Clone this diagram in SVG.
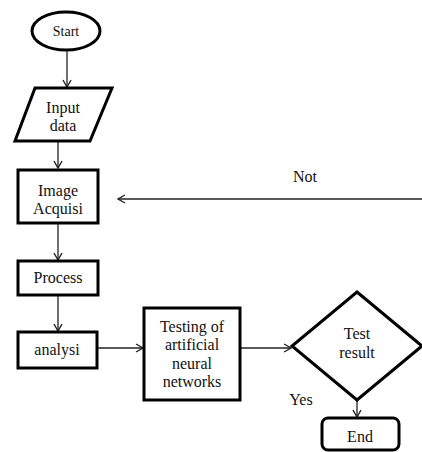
<svg xmlns="http://www.w3.org/2000/svg" width="422" height="452" viewBox="0 0 422 452">
<style>
  text { font-family: "Liberation Serif", "Times New Roman", serif; font-size: 16px; fill: #111; text-anchor: middle; }
  .shape { fill: #fff; stroke: #000; stroke-width: 3; }
  .conn { stroke: #222; stroke-width: 1.3; fill: none; }
</style>
<defs>
  <marker id="arr" markerWidth="10" markerHeight="10" refX="8" refY="5" orient="auto" markerUnits="userSpaceOnUse">
    <path d="M1,1 L8,5 L1,9" fill="none" stroke="#222" stroke-width="1.4"/>
  </marker>
</defs>
<rect width="422" height="452" fill="#fff"/>
<g id="connectors">
  <line class="conn" x1="67" y1="50" x2="67" y2="87" marker-end="url(#arr)"/>
  <line class="conn" x1="58" y1="142" x2="58" y2="168" marker-end="url(#arr)"/>
  <line class="conn" x1="58" y1="223" x2="58" y2="260" marker-end="url(#arr)"/>
  <line class="conn" x1="58" y1="295" x2="58" y2="331" marker-end="url(#arr)"/>
  <line class="conn" x1="97" y1="348" x2="143" y2="348" marker-end="url(#arr)"/>
  <line class="conn" x1="240" y1="348" x2="291" y2="348" marker-end="url(#arr)"/>
  <line class="conn" x1="357" y1="400" x2="357" y2="417" marker-end="url(#arr)"/>
  <line class="conn" x1="422" y1="199" x2="118" y2="199" stroke="#444" stroke-width="1.6" marker-end="url(#arr)"/>
  <text x="305" y="182">Not</text>
  <text x="301" y="405">Yes</text>
</g>
<g id="start">
  <ellipse class="shape" cx="66" cy="31" rx="34" ry="19" stroke-width="2.5"/>
  <text x="66" y="36" style="font-size:14px">Start</text>
</g>
<g id="input">
  <polygon class="shape" points="35,88 112,88 90,141 15,141"/>
  <text x="63" y="113">Input</text>
  <text x="63" y="131">data</text>
</g>
<g id="image">
  <rect class="shape" x="18" y="170" width="80" height="53"/>
  <text x="58" y="196">Image</text>
  <text x="58" y="214">Acquisi</text>
</g>
<g id="process">
  <rect class="shape" x="18" y="261" width="80" height="34"/>
  <text x="58" y="283">Process</text>
</g>
<g id="analysi">
  <rect class="shape" x="18" y="332" width="79" height="36"/>
  <text x="57" y="355">analysi</text>
</g>
<g id="testing">
  <rect class="shape" x="144" y="308" width="96" height="92"/>
  <text x="192" y="332">Testing of</text>
  <text x="192" y="350">artificial</text>
  <text x="192" y="369">neural</text>
  <text x="192" y="387">networks</text>
</g>
<g id="decision">
  <polygon class="shape" points="357,292 422,346 357,400 292,346" stroke-width="2.5"/>
  <text x="357" y="339">Test</text>
  <text x="357" y="358">result</text>
</g>
<g id="end">
  <rect class="shape" x="322" y="418" width="77" height="32" rx="6"/>
  <text x="360" y="442">End</text>
</g>
</svg>
